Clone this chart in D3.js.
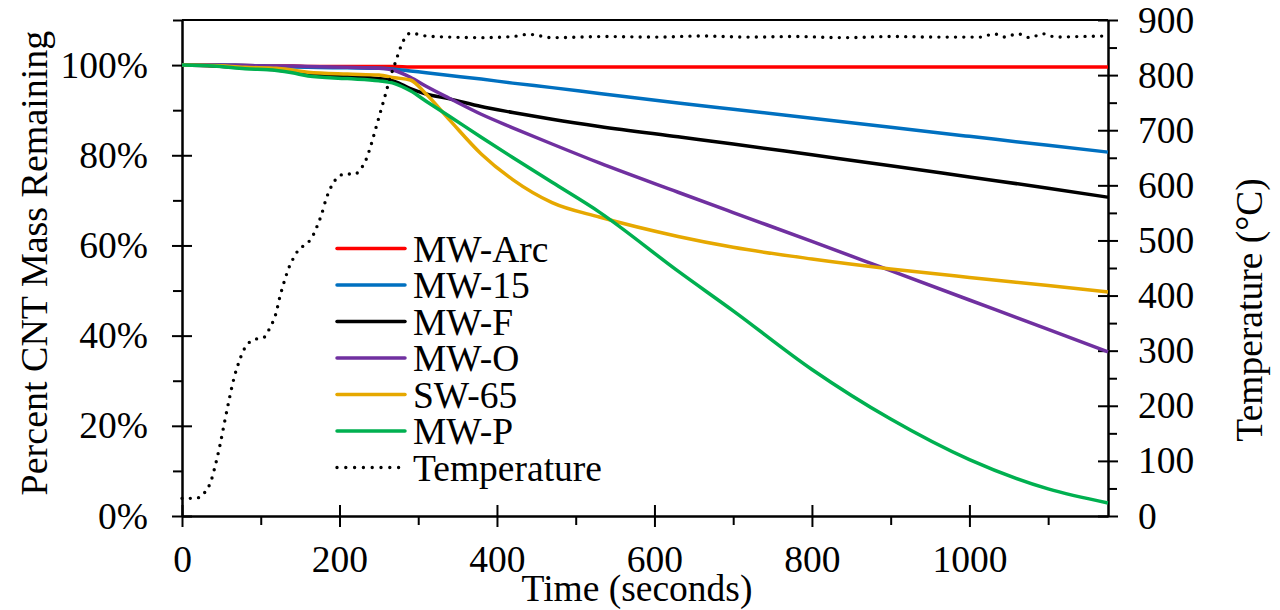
<!DOCTYPE html>
<html>
<head>
<meta charset="utf-8">
<script src="https://cdn.jsdelivr.net/npm/d3@7"></script>
<style>
  body { margin: 0; background: #fff; }
  svg text { font-family: "Liberation Serif", "Times New Roman", serif; fill: #000; }
</style>
</head>
<body>
<svg id="chart" width="1280" height="610"></svg>
<script>
// time samples (seconds) shared by all mass curves
const times = [0, 40, 80, 120, 140, 160, 210, 250, 270, 290, 310, 340, 380, 420, 470, 530, 630, 700, 800, 900, 1000, 1100, 1176];

// percent mass remaining
const mwArc = [100, 100, 99.9, 99.8, 99.8, 99.7, 99.7, 99.7, 99.7, 99.6, 99.6, 99.6, 99.6, 99.6, 99.6, 99.6, 99.6, 99.6, 99.6, 99.6, 99.6, 99.6, 99.6];
const mw15 = [100, 100, 99.9, 99.7, 99.6, 99.5, 99.4, 99.3, 99.1, 98.7, 98.3, 97.7, 96.9, 96.0, 95.0, 93.7, 91.6, 90.2, 88.2, 86.2, 84.2, 82.2, 80.7];
const mwF = [100, 99.8, 99.4, 98.9, 98.5, 98.0, 97.4, 97.0, 96.4, 94.8, 93.6, 92.5, 90.8, 89.5, 88.0, 86.4, 84.1, 82.5, 80.1, 77.7, 75.2, 72.7, 70.7];
const mwO = [100, 100, 99.9, 99.8, 99.8, 99.7, 99.5, 99.3, 98.8, 97.3, 95.3, 92.6, 89.1, 86.1, 82.5, 78.3, 71.8, 67.3, 60.9, 54.4, 47.9, 41.4, 36.4];
const sw65 = [100, 99.9, 99.5, 99.3, 98.9, 98.4, 98.0, 97.8, 97.2, 96.7, 93.6, 87.8, 80.3, 74.6, 69.5, 66.3, 62.0, 59.6, 57.0, 54.8, 52.9, 51.1, 49.7];
const mwP = [100, 99.8, 99.2, 98.8, 98.3, 97.6, 97.0, 96.5, 95.9, 94.3, 92.0, 88.6, 84.0, 79.5, 74.0, 67.4, 54.3, 45.5, 32.5, 21.5, 12.5, 6.0, 2.9];

// furnace temperature (°C), secondary axis
const tempTime = [0, 12, 23, 30, 36, 42, 48, 54, 60, 66, 72, 78, 84, 94, 104, 110, 115, 119, 124, 130, 137, 142, 148, 156, 164, 169, 173, 177, 183, 187, 192, 199, 208, 219, 227, 233, 240, 246, 252, 258, 264, 271, 278, 283, 290, 310, 340, 380, 420, 440, 470, 540, 600, 660, 720, 780, 840, 900, 960, 1015, 1031, 1045, 1061, 1077, 1093, 1110, 1140, 1176];
const tempVal = [32, 32, 34, 45, 60, 90, 127, 170, 212, 250, 278, 300, 313, 321, 324, 337, 351, 366, 396, 426, 455, 469, 483, 492, 503, 517, 531, 546, 575, 590, 604, 616, 621, 620, 630, 644, 673, 703, 733, 763, 794, 823, 852, 867, 876, 871, 869, 868, 870, 874, 868, 870, 869, 871, 869, 870, 868, 870, 869, 869, 875, 869, 875, 868, 875, 869, 870, 871];

const seriesNames = ["MW-Arc", "MW-15", "MW-F", "MW-O", "SW-65", "MW-P"];
const seriesValues = [mwArc, mw15, mwF, mwO, sw65, mwP];
const seriesColors = ["#FF0000", "#0070C0", "#000000", "#7030A0", "#E6A800", "#00B050"];

const xMajor = [0, 200, 400, 600, 800, 1000];
const xMinor = [100, 300, 500, 700, 900, 1100];
const yLeftMajor = [0, 20, 40, 60, 80, 100];
const yLeftMinor = [10, 30, 50, 70, 90, 110];
const yRightMajor = [0, 100, 200, 300, 400, 500, 600, 700, 800, 900];
const yRightMinor = [50, 150, 250, 350, 450, 550, 650, 750, 850];

const svg = d3.select("#chart");
const plotLeft = 182, plotRight = 1108, plotTop = 20, plotBottom = 516;
const fontSize = 37.5;
const serif = '"Liberation Serif", "Times New Roman", serif';

const x = d3.scaleLinear().domain([0, 1176]).range([plotLeft, plotRight]);
const yL = d3.scaleLinear().domain([0, 110]).range([plotBottom, plotTop]);
const yR = d3.scaleLinear().domain([0, 900]).range([plotBottom, plotTop]);

// top border of plot area
svg.append("line")
  .attr("x1", plotLeft).attr("x2", plotRight)
  .attr("y1", plotTop).attr("y2", plotTop)
  .attr("stroke", "#000").attr("stroke-width", 2);

// minor ticks (outside only)
svg.append("g").attr("transform", `translate(${plotLeft},0)`)
  .call(d3.axisLeft(yL).tickValues(yLeftMinor).tickFormat("").tickSizeInner(9).tickSizeOuter(0));
svg.append("g").attr("transform", `translate(${plotRight},0)`)
  .call(d3.axisRight(yR).tickValues(yRightMinor).tickFormat("").tickSizeInner(9).tickSizeOuter(0));
svg.append("g").attr("transform", `translate(0,${plotBottom})`)
  .call(d3.axisBottom(x).tickValues(xMinor).tickFormat("").tickSizeInner(9).tickSizeOuter(0));

// major axes, ticks cross the axis line
const gLeft = svg.append("g").attr("transform", `translate(${plotLeft},0)`)
  .call(d3.axisLeft(yL).tickValues(yLeftMajor).tickFormat(d => d + "%").tickSizeInner(10).tickSizeOuter(0).tickPadding(24));
gLeft.selectAll(".tick line").attr("x1", 10);

const gRight = svg.append("g").attr("transform", `translate(${plotRight},0)`)
  .call(d3.axisRight(yR).tickValues(yRightMajor).tickFormat(d3.format("d")).tickSizeInner(10).tickSizeOuter(0).tickPadding(20));
gRight.selectAll(".tick line").attr("x1", -10);

const gBottom = svg.append("g").attr("transform", `translate(0,${plotBottom})`)
  .call(d3.axisBottom(x).tickValues(xMajor).tickFormat(d3.format("d")).tickSizeInner(11).tickSizeOuter(0).tickPadding(18));
gBottom.selectAll(".tick line").attr("y1", -11);

svg.selectAll("g").attr("font-family", serif);
svg.selectAll(".domain").attr("stroke", "#000").attr("stroke-width", 2);
svg.selectAll(".tick line").attr("stroke", "#000").attr("stroke-width", 2);
svg.selectAll(".tick text")
  .style("font-family", serif)
  .style("font-size", fontSize + "px")
  .attr("fill", "#000");

// mass curves
const massLine = d3.line()
  .x((d, i) => x(times[i]))
  .y(d => yL(d))
  .curve(d3.curveMonotoneX);

seriesValues.forEach((vals, i) => {
  svg.append("path")
    .attr("d", massLine(vals))
    .attr("fill", "none")
    .attr("stroke", seriesColors[i])
    .attr("stroke-width", 3.5)
    .attr("stroke-linejoin", "round");
});

// temperature, dotted
const tempLine = d3.line()
  .x((d, i) => x(tempTime[i]))
  .y(d => yR(d))
  .curve(d3.curveMonotoneX);

svg.append("path")
  .attr("d", tempLine(tempVal))
  .attr("fill", "none")
  .attr("stroke", "#000")
  .attr("stroke-width", 3.4)
  .attr("stroke-linecap", "round")
  .attr("stroke-dasharray", "0 8.3");

// legend
const legendX = 337, legendY = 248.5, legendStep = 36.5;
const legendNames = seriesNames.concat(["Temperature"]);
legendNames.forEach((name, i) => {
  const ly = legendY + i * legendStep;
  const isTemp = name === "Temperature";
  svg.append("line")
    .attr("x1", legendX).attr("x2", isTemp ? 400 : 405)
    .attr("y1", ly).attr("y2", ly)
    .attr("stroke", isTemp ? "#000" : seriesColors[i])
    .attr("stroke-width", isTemp ? 3.4 : 3.5)
    .attr("stroke-linecap", "round")
    .attr("stroke-dasharray", isTemp ? "0 8.8" : null);
  svg.append("text")
    .attr("x", 413).attr("y", ly)
    .attr("dy", "0.35em")
    .style("font-size", fontSize + "px")
    .text(name);
});

// axis titles
svg.append("text")
  .attr("transform", "translate(47,263) rotate(-90)")
  .attr("text-anchor", "middle")
  .style("font-size", "38px")
  .text("Percent CNT Mass Remaining");

svg.append("text")
  .attr("transform", "translate(1262,310) rotate(-90)")
  .attr("text-anchor", "middle")
  .style("font-size", fontSize + "px")
  .text("Temperature (°C)");

svg.append("text")
  .attr("x", 637).attr("y", 601)
  .attr("text-anchor", "middle")
  .style("font-size", fontSize + "px")
  .text("Time (seconds)");
</script>
</body>
</html>
